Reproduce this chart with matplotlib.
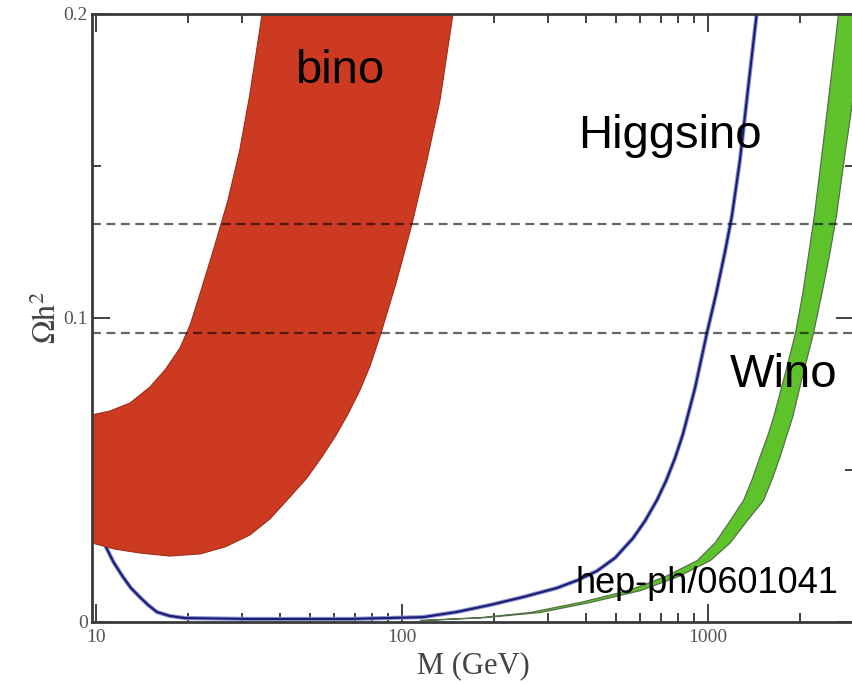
"""
中性微子遗迹丰度 Ωh² 随质量 M 的变化
bino / Higgsino / Wino 三种情形
"""
import matplotlib
matplotlib.use('Agg')
import matplotlib.pyplot as plt
from matplotlib.ticker import LogLocator, NullFormatter, FixedLocator

plt.rcParams['font.family'] = ['Liberation Serif', 'DejaVu Serif']
plt.rcParams['mathtext.fontset'] = 'stix'

# bino 带：左侧(上)边界与右侧(下)边界，单位 GeV / Ωh²
bino_upper_m = [9.7, 11.1, 12.9, 15.0, 16.8, 18.8, 20.3, 21.9, 24.3, 27.0,
                29.5, 31.8, 34.9]
bino_upper_omega = [0.0681, 0.0694, 0.0720, 0.0773, 0.0829, 0.0901, 0.0977,
                    0.1082, 0.1230, 0.1388, 0.1553, 0.1734, 0.2]
bino_lower_m = [9.7, 11.5, 13.9, 17.4, 21.9, 26.4, 31.8, 37.0, 43.0, 48.9,
                54.7, 60.4, 66.6, 72.9, 78.6, 85.4, 95.6, 107.8, 120.7,
                133.1, 146.7]
bino_lower_omega = [0.0260, 0.0240, 0.0227, 0.0217, 0.0224, 0.0247, 0.0286,
                    0.0339, 0.0411, 0.0474, 0.0543, 0.0609, 0.0684, 0.0763,
                    0.0842, 0.0951, 0.1115, 0.1309, 0.1520, 0.1717, 0.2]

# Higgsino 曲线
higgsino_m = [9.7, 10.15, 10.7, 11.4, 12.25, 13.0, 13.9, 14.8, 15.8, 17.4,
              19.5, 31.8, 67.6, 117, 151, 194, 248.5, 321, 376, 434, 497,
              569, 622, 681, 729, 780, 828, 907, 992, 1061, 1136, 1197,
              1272, 1350, 1445]
higgsino_omega = [0.0329, 0.0293, 0.0253, 0.0197, 0.0148, 0.0112, 0.0082,
                  0.0056, 0.0033, 0.0020, 0.0013, 0.0010, 0.0010, 0.0016,
                  0.0033, 0.0056, 0.0082, 0.0112, 0.0138, 0.0168, 0.0211,
                  0.0276, 0.0332, 0.0401, 0.0464, 0.0539, 0.0618, 0.0770,
                  0.0951, 0.1076, 0.1217, 0.1336, 0.1520, 0.1750, 0.2007]

# Wino 带：按 Ωh² 取左右两侧的质量
wino_omega = [0.00066, 0.0016, 0.0033, 0.0066, 0.0105, 0.0151, 0.0204, 0.0263,
              0.0336, 0.0401, 0.0474, 0.0549, 0.0612, 0.0674, 0.0809, 0.0951,
              0.1076, 0.1207, 0.1339, 0.1553, 0.1776, 0.2]
wino_m_left = [114.5, 179.8, 262, 381.5, 547.6, 723, 920, 1053, 1180, 1301,
               1393, 1478, 1559, 1631, 1771, 1924, 2028, 2122, 2219, 2357,
               2505, 2659]
wino_m_right = [118.8, 186.7, 282.5, 411.5, 599.4, 797.5, 1015, 1180, 1341,
                1512, 1618, 1719, 1798, 1882, 2028, 2203, 2340, 2485, 2620,
                2803, 3022, 3282]

# WMAP 允许范围
wmap_bounds = [0.095, 0.131]

x_ticks = [10, 100, 1000]
x_tick_labels = ['10', '100', '1000']
y_ticks = [0, 0.1, 0.2]
y_tick_labels = ['0', '0.1', '0.2']

fig = plt.figure(figsize=(8.52, 6.84), dpi=100)
ax = fig.add_axes([92 / 852, 62 / 684, 762 / 852, 608 / 684])
ax.set_xscale('log')

# Higgsino 线：浅蓝外晕 + 深蓝线芯
ax.plot(higgsino_m, higgsino_omega, color='#8a90d0', lw=3.0, zorder=2,
        solid_capstyle='round', solid_joinstyle='round')
ax.plot(higgsino_m, higgsino_omega, color='#1a1d72', lw=1.5, zorder=2.1,
        solid_joinstyle='round')

# bino 带
bino_m = bino_upper_m + bino_lower_m[::-1]
bino_omega = bino_upper_omega + bino_lower_omega[::-1]
ax.fill(bino_m, bino_omega, facecolor='#cd3a22', edgecolor='#9e2c18',
        lw=0.8, zorder=3)

# Wino 带
ax.fill_betweenx(wino_omega, wino_m_left, wino_m_right, facecolor='#5ec22a',
                 edgecolor='#56704a', lw=0.9, zorder=3)

for b in wmap_bounds:
    ax.axhline(b, color='black', alpha=0.6, lw=1.6, ls=(0, (4, 2.5)), zorder=4)

ax.set_xlim(9.7, 3000)
ax.set_ylim(0, 0.2)

ax.xaxis.set_major_locator(FixedLocator(x_ticks))
ax.set_xticklabels(x_tick_labels)
ax.xaxis.set_minor_locator(LogLocator(base=10, subs=range(2, 10)))
ax.xaxis.set_minor_formatter(NullFormatter())
ax.yaxis.set_major_locator(FixedLocator(y_ticks))
ax.set_yticklabels(y_tick_labels)
ax.yaxis.set_minor_locator(FixedLocator([0.05, 0.15]))

ax.tick_params(which='both', direction='in', top=True, right=True,
               color='#333333', width=1.3, labelcolor='#555555', labelsize=14)
ax.tick_params(which='major', length=13)
ax.tick_params(which='minor', length=6.5)
ax.tick_params(axis='x', pad=5)
ax.tick_params(axis='y', pad=3)

for s in ax.spines.values():
    s.set_linewidth(2)
    s.set_color('#3a3a3a')
    s.set_zorder(5)

ax.set_xlabel('M (GeV)', fontsize=22, color='#444444', labelpad=4)
ax.set_ylabel(r'$\Omega\mathrm{h}^2$', fontsize=23, color='#444444', labelpad=0)

sans = ['Liberation Sans', 'DejaVu Sans']
ax.text(0.2664, 0.8865, 'bino', family=sans, fontsize=34, ha='left',
        va='baseline', transform=ax.transAxes, zorder=6)
ax.text(0.6378, 0.7796, 'Higgsino', family=sans, fontsize=34, ha='left',
        va='baseline', transform=ax.transAxes, zorder=6)
ax.text(0.8373, 0.3865, 'Wino', family=sans, fontsize=34, ha='left',
        va='baseline', transform=ax.transAxes, zorder=6)
ax.text(0.6339, 0.0477, 'hep-ph/0601041', family=sans, fontsize=26, ha='left',
        va='baseline', transform=ax.transAxes, zorder=6)

fig.savefig('out.png', dpi=100)
